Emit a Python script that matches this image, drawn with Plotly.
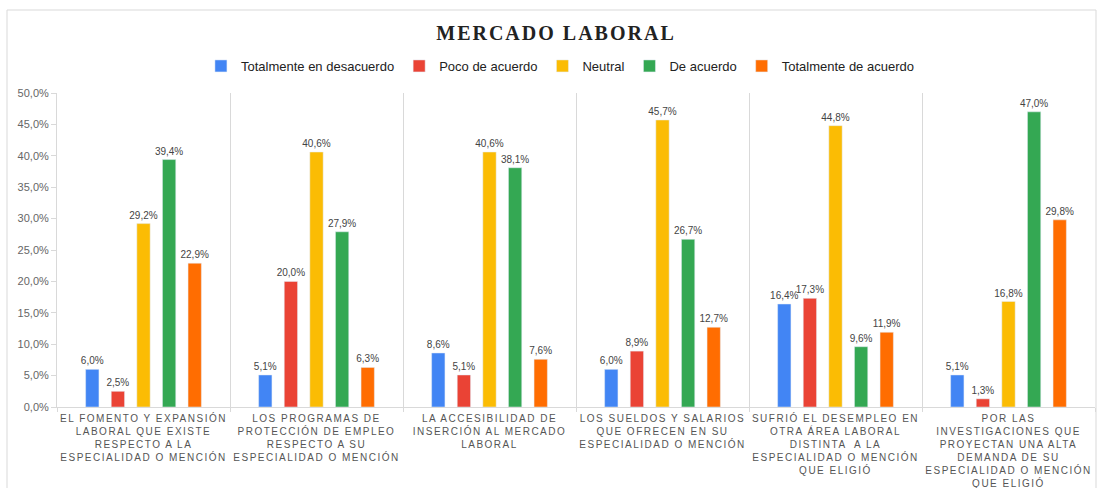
import plotly.graph_objects as go

categories = ["C1", "C2", "C3", "C4", "C5", "C6"]
tick_labels = [
    "EL FOMENTO Y EXPANSIÓN<br>LABORAL QUE EXISTE<br>RESPECTO A LA<br>ESPECIALIDAD O MENCIÓN",
    "LOS PROGRAMAS DE<br>PROTECCIÓN DE EMPLEO<br>RESPECTO A SU<br>ESPECIALIDAD O MENCIÓN",
    "LA ACCESIBILIDAD DE<br>INSERCIÓN AL MERCADO<br>LABORAL",
    "LOS SUELDOS Y SALARIOS<br>QUE OFRECEN EN SU<br>ESPECIALIDAD O MENCIÓN",
    "SUFRIÓ EL DESEMPLEO EN<br>OTRA ÁREA LABORAL<br>DISTINTA  A LA<br>ESPECIALIDAD O MENCIÓN<br>QUE ELIGIÓ",
    "POR LAS<br>INVESTIGACIONES QUE<br>PROYECTAN UNA ALTA<br>DEMANDA DE SU<br>ESPECIALIDAD O MENCIÓN<br>QUE ELIGIÓ",
]

series_names = ["Totalmente en desacuerdo", "Poco de acuerdo", "Neutral",
                "De acuerdo", "Totalmente de acuerdo"]
totalmente_desacuerdo = [6.0, 5.1, 8.6, 6.0, 16.4, 5.1]
poco_acuerdo = [2.5, 20.0, 5.1, 8.9, 17.3, 1.3]
neutral = [29.2, 40.6, 40.6, 45.7, 44.8, 16.8]
de_acuerdo = [39.4, 27.9, 38.1, 26.7, 9.6, 47.0]
totalmente_acuerdo = [22.9, 6.3, 7.6, 12.7, 11.9, 29.8]
series_values = [totalmente_desacuerdo, poco_acuerdo, neutral, de_acuerdo, totalmente_acuerdo]
colors = ["#4285F4", "#EA4335", "#FBBC04", "#34A853", "#FF6D01"]

y_ticks = [0, 5, 10, 15, 20, 25, 30, 35, 40, 45, 50]
y_tick_text = ["0,0%", "5,0%", "10,0%", "15,0%", "20,0%", "25,0%",
               "30,0%", "35,0%", "40,0%", "45,0%", "50,0%"]

fig = go.Figure()
for name, vals, col in zip(series_names, series_values, colors):
    fig.add_trace(go.Bar(
        x=categories, y=vals, name=name, marker_color=col,
        text=vals, texttemplate="%{y:.1f}%", textposition="outside",
        constraintext="none",
        textfont=dict(family="Liberation Sans, Arial", size=10, color="#444"),
        cliponaxis=False,
    ))

L, R, T, B = 57, 6, 93, 81
W, H = 1101, 488
pw, ph = W - L - R, H - T - B

def px(xp):
    return (xp - L) / pw

def py(yp):
    return (H - B - yp) / ph

fig.update_layout(
    width=W, height=H,
    margin=dict(l=L, r=R, t=T, b=B),
    paper_bgcolor="white", plot_bgcolor="white",
    separators=",.",
    barmode="group", bargap=0.26, bargroupgap=0.48,
    title=dict(text="<b>MERCADO LABORAL</b>", x=0.505, xanchor="center",
               y=1 - 33 / H, yanchor="middle",
               font=dict(family="Liberation Serif, Times New Roman", size=20, color="#222")),
    legend=dict(orientation="h", x=0.485, xanchor="center", y=1 - 66 / H, yref="container",
                yanchor="middle", font=dict(family="Liberation Sans, Arial", size=13, color="#222"),
                itemwidth=30, traceorder="normal"),
    showlegend=True,
    xaxis=dict(
        tickvals=categories, ticktext=tick_labels, tickson="boundaries",
        showgrid=True, gridcolor="#d9d9d9", gridwidth=1,
        showline=True, linecolor="#d9d9d9",
        ticks="outside", ticklen=4, tickcolor="#d9d9d9",
        tickfont=dict(family="Liberation Sans, Arial", size=10, color="#555"),
        tickangle=0, automargin=False, ticklabelstandoff=2,
    ),
    yaxis=dict(
        range=[0, 50], tickvals=y_ticks, ticktext=y_tick_text,
        showgrid=False, zeroline=False,
        showline=True, linecolor="#d9d9d9",
        ticks="outside", ticklen=5, tickcolor="#d9d9d9",
        tickfont=dict(family="Liberation Sans, Arial", size=11, color="#666"),
        automargin=False,
    ),
    shapes=[dict(type="rect", xref="paper", yref="paper",
                 x0=px(7), x1=px(1096), y0=py(495), y1=py(10),
                 line=dict(color="#d9d9d9", width=1), layer="below")],
)

post = """
document.body.style.margin = '0';
document.documentElement.style.overflow = 'hidden';
var gd = document.getElementById('{plot_id}');
function spacing(){
  gd.querySelectorAll('.xtick text').forEach(function(t){ t.style.letterSpacing='1.5px'; });
  gd.querySelectorAll('.gtitle').forEach(function(t){ t.style.letterSpacing='2px'; });
}
spacing();
gd.on('plotly_afterplot', spacing);
"""

fig.write_html("out.html", post_script=post, config={"displayModeBar": False})
